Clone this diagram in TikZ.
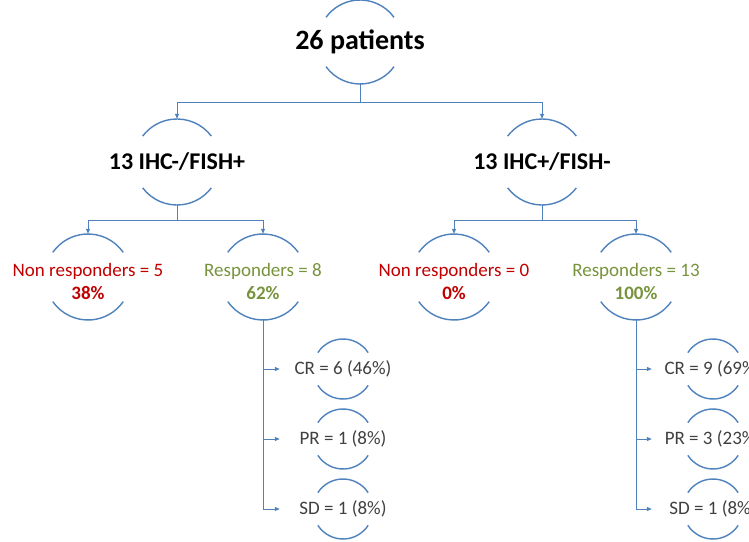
\documentclass[tikz,border=0pt]{standalone}
\usepackage{fontspec}
\setmainfont{Carlito}
\usetikzlibrary{arrows.meta}

\definecolor{linkblue}{HTML}{4F81BD}
\definecolor{nonred}{HTML}{C00000}
\definecolor{respgreen}{HTML}{77933C}
\definecolor{txtgray}{HTML}{404040}

\begin{document}
\begin{tikzpicture}[x=1pt,y=1pt,
	link/.style={draw=linkblue, line width=0.8pt, -{Triangle[length=5pt,width=4pt]}},
	ringline/.style={draw=linkblue, line width=1.4pt},
	ring/.style={circle, minimum size=2*#1, inner sep=0pt},
	toptxt/.style={font=\bfseries\fontsize{28}{32}\selectfont},
	midtxt/.style={font=\bfseries\fontsize{24}{28}\selectfont},
	nontxt/.style={text=nonred, align=center, yshift=-4.5pt, font=\fontsize{19}{23}\selectfont},
	resptxt/.style={text=respgreen, align=center, yshift=-4.5pt, font=\fontsize{19}{23}\selectfont},
	outtxt/.style={text=txtgray, font=\fontsize{19}{23}\selectfont}]
	\useasboundingbox (0,0) rectangle (749,541);
	\clip (0,0) rectangle (749,541);

	% Levels
	\node[ring=42, label={[toptxt]center:26 patients}] (top) at (360,499) {};
	\node[ring=43, label={[midtxt]center:13 IHC-/FISH+}] (ihcneg) at (177,379) {};
	\node[ring=43, label={[midtxt]center:13 IHC+/FISH-}] (ihcpos) at (542,379) {};

	\node[ring=43, label={[nontxt]center:{Non responders = 5\\\textbf{38\%}}}] (nonA) at (88,264) {};
	\node[ring=43, label={[resptxt]center:{Responders = 8\\\textbf{62\%}}}] (respA) at (263,264) {};
	\node[ring=43, label={[nontxt]center:{Non responders = 0\\\textbf{0\%}}}] (nonB) at (454,264) {};
	\node[ring=43, label={[resptxt]center:{Responders = 13\\\textbf{100\%}}}] (respB) at (636,264) {};

	\node[ring=30, label={[outtxt]center:CR = 6 (46\%)}] (crA) at (343,172) {};
	\node[ring=30, label={[outtxt]center:PR = 1 (8\%)}] (prA) at (343,102) {};
	\node[ring=30, label={[outtxt]center:SD = 1 (8\%)}] (sdA) at (343,32) {};
	\node[ring=30, label={[outtxt]center:CR = 9 (69\%)}] (crB) at (713,172) {};
	\node[ring=30, label={[outtxt]center:PR = 3 (23\%)}] (prB) at (713,102) {};
	\node[ring=30, label={[outtxt]center:SD = 1 (8\%)}] (sdB) at (713,32) {};

	% Half rings
	\foreach \n/\r/\a in {top/42/54, ihcneg/43/53, ihcpos/43/53,
		nonA/43/55, respA/43/55, nonB/43/55, respB/43/55,
		crA/30/57, prA/30/57, sdA/30/57, crB/30/57, prB/30/57, sdB/30/57} {
		\draw[ringline] ([shift={(90-\a:\r)}]\n.center) arc[start angle=90-\a, end angle=90+\a, radius=\r];
		\draw[ringline] ([shift={(270-\a:\r)}]\n.center) arc[start angle=270-\a, end angle=270+\a, radius=\r];
	}

	% Connectors
	\draw[link] (top.south) -- ++(0,-18) -| (ihcneg.north);
	\draw[link] (top.south) -- ++(0,-18) -| (ihcpos.north);
	\draw[link] (ihcneg.south) -- ++(0,-15) -| (nonA.north);
	\draw[link] (ihcneg.south) -- ++(0,-15) -| (respA.north);
	\draw[link] (ihcpos.south) -- ++(0,-15) -| (nonB.north);
	\draw[link] (ihcpos.south) -- ++(0,-15) -| (respB.north);

	\foreach \k in {crA, prA, sdA}
		\draw[link, shorten >=33pt] (respA.south) |- (\k.west);
	\foreach \k in {crB, prB, sdB}
		\draw[link, shorten >=31pt] (respB.south) |- (\k.west);
\end{tikzpicture}
\end{document}
